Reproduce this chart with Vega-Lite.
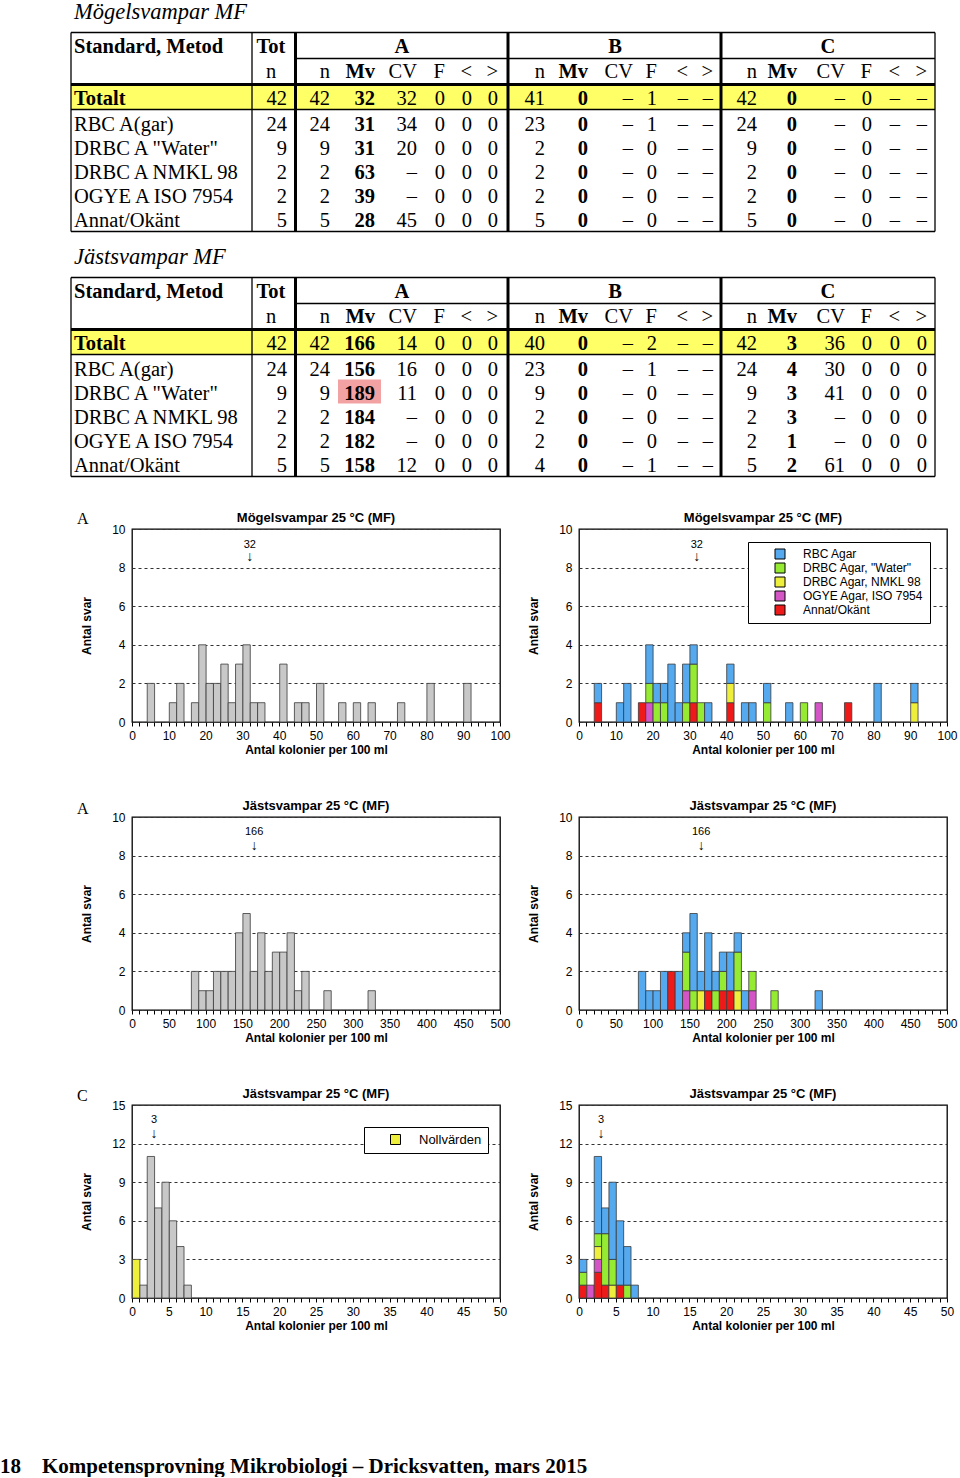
{
"$schema": "https://vega.github.io/schema/vega-lite/v6.json",
"background": "white",
"padding": 0,
"autosize": {"type": "pad"},
"config": {
  "view": {"stroke": "#000", "strokeWidth": 1.3},
  "font": "Liberation Sans",
  "text": {"color": "#000"},
  "title": {"font": "Liberation Sans", "fontSize": 13, "fontWeight": "bold", "color": "#000", "offset": 1, "dy": 3, "baseline": "alphabetic", "anchor": "middle", "frame": "group"},
  "axis": {"domain": false, "grid": false, "ticks": true, "tickColor": "#000", "tickSize": 4, "tickWidth": 1, "labelFont": "Liberation Sans", "labelFontSize": 12, "labelColor": "#000", "labelFlush": false, "labelOverlap": false, "titleFont": "Liberation Sans", "titleFontSize": 12, "titleFontWeight": "bold", "titleColor": "#000"},
  "axisX": {"labelPadding": 4, "titlePadding": 3},
  "axisY": {"grid": true, "gridDash": [3, 3], "gridColor": "#333", "gridWidth": 1, "ticks": false, "labelPadding": 7, "titlePadding": 18},
  "legend": {"orient": "none", "fillColor": "#fff", "strokeColor": "#000", "symbolType": "square", "symbolStrokeColor": "#000", "symbolStrokeWidth": 1, "labelFont": "Liberation Sans", "labelColor": "#000"}
},
"datasets": {
  "tabeller": [
    {"tabell": "Mögelsvampar MF", "metod": "Totalt", "tot": "42", "An": "42", "Amv": "32", "Acv": "32", "Af": "0", "Alt": "0", "Agt": "0", "Bn": "41", "Bmv": "0", "Bcv": "–", "Bf": "1", "Blt": "–", "Bgt": "–", "Cn": "42", "Cmv": "0", "Ccv": "–", "Cf": "0", "Clt": "–", "Cgt": "–"},
    {"tabell": "Mögelsvampar MF", "metod": "RBC A(gar)", "tot": "24", "An": "24", "Amv": "31", "Acv": "34", "Af": "0", "Alt": "0", "Agt": "0", "Bn": "23", "Bmv": "0", "Bcv": "–", "Bf": "1", "Blt": "–", "Bgt": "–", "Cn": "24", "Cmv": "0", "Ccv": "–", "Cf": "0", "Clt": "–", "Cgt": "–"},
    {"tabell": "Mögelsvampar MF", "metod": "DRBC A \"Water\"", "tot": "9", "An": "9", "Amv": "31", "Acv": "20", "Af": "0", "Alt": "0", "Agt": "0", "Bn": "2", "Bmv": "0", "Bcv": "–", "Bf": "0", "Blt": "–", "Bgt": "–", "Cn": "9", "Cmv": "0", "Ccv": "–", "Cf": "0", "Clt": "–", "Cgt": "–"},
    {"tabell": "Mögelsvampar MF", "metod": "DRBC A NMKL 98", "tot": "2", "An": "2", "Amv": "63", "Acv": "–", "Af": "0", "Alt": "0", "Agt": "0", "Bn": "2", "Bmv": "0", "Bcv": "–", "Bf": "0", "Blt": "–", "Bgt": "–", "Cn": "2", "Cmv": "0", "Ccv": "–", "Cf": "0", "Clt": "–", "Cgt": "–"},
    {"tabell": "Mögelsvampar MF", "metod": "OGYE A ISO 7954", "tot": "2", "An": "2", "Amv": "39", "Acv": "–", "Af": "0", "Alt": "0", "Agt": "0", "Bn": "2", "Bmv": "0", "Bcv": "–", "Bf": "0", "Blt": "–", "Bgt": "–", "Cn": "2", "Cmv": "0", "Ccv": "–", "Cf": "0", "Clt": "–", "Cgt": "–"},
    {"tabell": "Mögelsvampar MF", "metod": "Annat/Okänt", "tot": "5", "An": "5", "Amv": "28", "Acv": "45", "Af": "0", "Alt": "0", "Agt": "0", "Bn": "5", "Bmv": "0", "Bcv": "–", "Bf": "0", "Blt": "–", "Bgt": "–", "Cn": "5", "Cmv": "0", "Ccv": "–", "Cf": "0", "Clt": "–", "Cgt": "–"},
    {"tabell": "Jästsvampar MF", "metod": "Totalt", "tot": "42", "An": "42", "Amv": "166", "Acv": "14", "Af": "0", "Alt": "0", "Agt": "0", "Bn": "40", "Bmv": "0", "Bcv": "–", "Bf": "2", "Blt": "–", "Bgt": "–", "Cn": "42", "Cmv": "3", "Ccv": "36", "Cf": "0", "Clt": "0", "Cgt": "0"},
    {"tabell": "Jästsvampar MF", "metod": "RBC A(gar)", "tot": "24", "An": "24", "Amv": "156", "Acv": "16", "Af": "0", "Alt": "0", "Agt": "0", "Bn": "23", "Bmv": "0", "Bcv": "–", "Bf": "1", "Blt": "–", "Bgt": "–", "Cn": "24", "Cmv": "4", "Ccv": "30", "Cf": "0", "Clt": "0", "Cgt": "0"},
    {"tabell": "Jästsvampar MF", "metod": "DRBC A \"Water\"", "tot": "9", "An": "9", "Amv": "189", "Acv": "11", "Af": "0", "Alt": "0", "Agt": "0", "Bn": "9", "Bmv": "0", "Bcv": "–", "Bf": "0", "Blt": "–", "Bgt": "–", "Cn": "9", "Cmv": "3", "Ccv": "41", "Cf": "0", "Clt": "0", "Cgt": "0"},
    {"tabell": "Jästsvampar MF", "metod": "DRBC A NMKL 98", "tot": "2", "An": "2", "Amv": "184", "Acv": "–", "Af": "0", "Alt": "0", "Agt": "0", "Bn": "2", "Bmv": "0", "Bcv": "–", "Bf": "0", "Blt": "–", "Bgt": "–", "Cn": "2", "Cmv": "3", "Ccv": "–", "Cf": "0", "Clt": "0", "Cgt": "0"},
    {"tabell": "Jästsvampar MF", "metod": "OGYE A ISO 7954", "tot": "2", "An": "2", "Amv": "182", "Acv": "–", "Af": "0", "Alt": "0", "Agt": "0", "Bn": "2", "Bmv": "0", "Bcv": "–", "Bf": "0", "Blt": "–", "Bgt": "–", "Cn": "2", "Cmv": "1", "Ccv": "–", "Cf": "0", "Clt": "0", "Cgt": "0"},
    {"tabell": "Jästsvampar MF", "metod": "Annat/Okänt", "tot": "5", "An": "5", "Amv": "158", "Acv": "12", "Af": "0", "Alt": "0", "Agt": "0", "Bn": "4", "Bmv": "0", "Bcv": "–", "Bf": "1", "Blt": "–", "Bgt": "–", "Cn": "5", "Cmv": "2", "Ccv": "61", "Cf": "0", "Clt": "0", "Cgt": "0"}
  ],
  "rubriker": [
    {"tabell": "Mögelsvampar MF", "rad": "h1", "metod": "Standard, Metod", "totc": "Tot", "Ac": "A", "Bc": "B", "Cc": "C"},
    {"tabell": "Mögelsvampar MF", "rad": "h2", "totc": "n", "An": "n", "Amv": "Mv", "Acv": "CV", "Af": "F", "Alt": "<", "Agt": ">", "Bn": "n", "Bmv": "Mv", "Bcv": "CV", "Bf": "F", "Blt": "<", "Bgt": ">", "Cn": "n", "Cmv": "Mv", "Ccv": "CV", "Cf": "F", "Clt": "<", "Cgt": ">"},
    {"tabell": "Jästsvampar MF", "rad": "h1", "metod": "Standard, Metod", "totc": "Tot", "Ac": "A", "Bc": "B", "Cc": "C"},
    {"tabell": "Jästsvampar MF", "rad": "h2", "totc": "n", "An": "n", "Amv": "Mv", "Acv": "CV", "Af": "F", "Alt": "<", "Agt": ">", "Bn": "n", "Bmv": "Mv", "Bcv": "CV", "Bf": "F", "Blt": "<", "Bgt": ">", "Cn": "n", "Cmv": "Mv", "Ccv": "CV", "Cf": "F", "Clt": "<", "Cgt": ">"}
  ],
  "markeringar": [{"tabell": "Jästsvampar MF", "metod": "DRBC A \"Water\"", "kolumn": "Amv"}],
  "hlinjer_tunna": [{"fr": "L0", "till": "L5", "rad": "top"}, {"fr": "L2", "till": "L5", "rad": "sec"}, {"fr": "L0", "till": "L5", "rad": "tl"}, {"fr": "L0", "till": "L5", "rad": "bot"}],
  "hlinjer_tjocka": [{"fr": "L0", "till": "L5", "rad": "thick"}],
  "vlinjer_tunna": [{"kant": "L0"}, {"kant": "L1"}, {"kant": "L5"}],
  "vlinjer_tjocka": [{"kant": "L2"}, {"kant": "L3"}, {"kant": "L4"}],
  "mogel_tot": [
    {"fran": 4, "till": 6, "antal": 2}, {"fran": 10, "till": 12, "antal": 1}, {"fran": 12, "till": 14, "antal": 2}, {"fran": 16, "till": 18, "antal": 1},
    {"fran": 18, "till": 20, "antal": 4}, {"fran": 20, "till": 22, "antal": 2}, {"fran": 22, "till": 24, "antal": 2}, {"fran": 24, "till": 26, "antal": 3},
    {"fran": 26, "till": 28, "antal": 1}, {"fran": 28, "till": 30, "antal": 3}, {"fran": 30, "till": 32, "antal": 4}, {"fran": 32, "till": 34, "antal": 1},
    {"fran": 34, "till": 36, "antal": 1}, {"fran": 40, "till": 42, "antal": 3}, {"fran": 44, "till": 46, "antal": 1}, {"fran": 46, "till": 48, "antal": 1},
    {"fran": 50, "till": 52, "antal": 2}, {"fran": 56, "till": 58, "antal": 1}, {"fran": 60, "till": 62, "antal": 1}, {"fran": 64, "till": 66, "antal": 1},
    {"fran": 72, "till": 74, "antal": 1}, {"fran": 80, "till": 82, "antal": 2}, {"fran": 90, "till": 92, "antal": 2}
  ],
  "mogel_metod": [
    {"fran": 4, "till": 6, "metod": "Annat/Okänt", "antal": 1}, {"fran": 4, "till": 6, "metod": "RBC Agar", "antal": 1},
    {"fran": 10, "till": 12, "metod": "RBC Agar", "antal": 1}, {"fran": 12, "till": 14, "metod": "RBC Agar", "antal": 2},
    {"fran": 16, "till": 18, "metod": "Annat/Okänt", "antal": 1},
    {"fran": 18, "till": 20, "metod": "OGYE Agar, ISO 7954", "antal": 1}, {"fran": 18, "till": 20, "metod": "DRBC Agar, \"Water\"", "antal": 1}, {"fran": 18, "till": 20, "metod": "RBC Agar", "antal": 2},
    {"fran": 20, "till": 22, "metod": "DRBC Agar, \"Water\"", "antal": 1}, {"fran": 20, "till": 22, "metod": "RBC Agar", "antal": 1},
    {"fran": 22, "till": 24, "metod": "DRBC Agar, \"Water\"", "antal": 1}, {"fran": 22, "till": 24, "metod": "RBC Agar", "antal": 1},
    {"fran": 24, "till": 26, "metod": "RBC Agar", "antal": 3}, {"fran": 26, "till": 28, "metod": "RBC Agar", "antal": 1},
    {"fran": 28, "till": 30, "metod": "DRBC Agar, \"Water\"", "antal": 1}, {"fran": 28, "till": 30, "metod": "RBC Agar", "antal": 2},
    {"fran": 30, "till": 32, "metod": "Annat/Okänt", "antal": 1}, {"fran": 30, "till": 32, "metod": "DRBC Agar, \"Water\"", "antal": 2}, {"fran": 30, "till": 32, "metod": "RBC Agar", "antal": 1},
    {"fran": 32, "till": 34, "metod": "DRBC Agar, \"Water\"", "antal": 1}, {"fran": 34, "till": 36, "metod": "RBC Agar", "antal": 1},
    {"fran": 40, "till": 42, "metod": "Annat/Okänt", "antal": 1}, {"fran": 40, "till": 42, "metod": "DRBC Agar, NMKL 98", "antal": 1}, {"fran": 40, "till": 42, "metod": "RBC Agar", "antal": 1},
    {"fran": 44, "till": 46, "metod": "RBC Agar", "antal": 1}, {"fran": 46, "till": 48, "metod": "RBC Agar", "antal": 1},
    {"fran": 50, "till": 52, "metod": "DRBC Agar, \"Water\"", "antal": 1}, {"fran": 50, "till": 52, "metod": "RBC Agar", "antal": 1},
    {"fran": 56, "till": 58, "metod": "RBC Agar", "antal": 1}, {"fran": 60, "till": 62, "metod": "DRBC Agar, \"Water\"", "antal": 1},
    {"fran": 64, "till": 66, "metod": "OGYE Agar, ISO 7954", "antal": 1}, {"fran": 72, "till": 74, "metod": "Annat/Okänt", "antal": 1},
    {"fran": 80, "till": 82, "metod": "RBC Agar", "antal": 2},
    {"fran": 90, "till": 92, "metod": "DRBC Agar, NMKL 98", "antal": 1}, {"fran": 90, "till": 92, "metod": "RBC Agar", "antal": 1}
  ],
  "jast_tot": [
    {"fran": 80, "till": 90, "antal": 2}, {"fran": 90, "till": 100, "antal": 1}, {"fran": 100, "till": 110, "antal": 1}, {"fran": 110, "till": 120, "antal": 2},
    {"fran": 120, "till": 130, "antal": 2}, {"fran": 130, "till": 140, "antal": 2}, {"fran": 140, "till": 150, "antal": 4}, {"fran": 150, "till": 160, "antal": 5},
    {"fran": 160, "till": 170, "antal": 2}, {"fran": 170, "till": 180, "antal": 4}, {"fran": 180, "till": 190, "antal": 2}, {"fran": 190, "till": 200, "antal": 3},
    {"fran": 200, "till": 210, "antal": 3}, {"fran": 210, "till": 220, "antal": 4}, {"fran": 220, "till": 230, "antal": 1}, {"fran": 230, "till": 240, "antal": 2},
    {"fran": 260, "till": 270, "antal": 1}, {"fran": 320, "till": 330, "antal": 1}
  ],
  "jast_metod": [
    {"fran": 80, "till": 90, "metod": "RBC Agar", "antal": 2}, {"fran": 90, "till": 100, "metod": "RBC Agar", "antal": 1},
    {"fran": 100, "till": 110, "metod": "RBC Agar", "antal": 1}, {"fran": 110, "till": 120, "metod": "RBC Agar", "antal": 2},
    {"fran": 120, "till": 130, "metod": "Annat/Okänt", "antal": 2}, {"fran": 130, "till": 140, "metod": "RBC Agar", "antal": 2},
    {"fran": 140, "till": 150, "metod": "OGYE Agar, ISO 7954", "antal": 1}, {"fran": 140, "till": 150, "metod": "DRBC Agar, \"Water\"", "antal": 2}, {"fran": 140, "till": 150, "metod": "RBC Agar", "antal": 1},
    {"fran": 150, "till": 160, "metod": "DRBC Agar, \"Water\"", "antal": 1}, {"fran": 150, "till": 160, "metod": "RBC Agar", "antal": 4},
    {"fran": 160, "till": 170, "metod": "DRBC Agar, NMKL 98", "antal": 1}, {"fran": 160, "till": 170, "metod": "RBC Agar", "antal": 1},
    {"fran": 170, "till": 180, "metod": "Annat/Okänt", "antal": 1}, {"fran": 170, "till": 180, "metod": "RBC Agar", "antal": 3},
    {"fran": 180, "till": 190, "metod": "DRBC Agar, \"Water\"", "antal": 1}, {"fran": 180, "till": 190, "metod": "RBC Agar", "antal": 1},
    {"fran": 190, "till": 200, "metod": "Annat/Okänt", "antal": 1}, {"fran": 190, "till": 200, "metod": "DRBC Agar, \"Water\"", "antal": 1}, {"fran": 190, "till": 200, "metod": "RBC Agar", "antal": 1},
    {"fran": 200, "till": 210, "metod": "Annat/Okänt", "antal": 1}, {"fran": 200, "till": 210, "metod": "RBC Agar", "antal": 2},
    {"fran": 210, "till": 220, "metod": "DRBC Agar, NMKL 98", "antal": 1}, {"fran": 210, "till": 220, "metod": "DRBC Agar, \"Water\"", "antal": 2}, {"fran": 210, "till": 220, "metod": "RBC Agar", "antal": 1},
    {"fran": 220, "till": 230, "metod": "RBC Agar", "antal": 1},
    {"fran": 230, "till": 240, "metod": "OGYE Agar, ISO 7954", "antal": 1}, {"fran": 230, "till": 240, "metod": "DRBC Agar, \"Water\"", "antal": 1},
    {"fran": 260, "till": 270, "metod": "DRBC Agar, \"Water\"", "antal": 1}, {"fran": 320, "till": 330, "metod": "RBC Agar", "antal": 1}
  ],
  "jastc_tot": [
    {"fran": 0, "till": 1, "typ": "Nollvärden", "antal": 3}, {"fran": 1, "till": 2, "typ": "Övriga", "antal": 1}, {"fran": 2, "till": 3, "typ": "Övriga", "antal": 11},
    {"fran": 3, "till": 4, "typ": "Övriga", "antal": 7}, {"fran": 4, "till": 5, "typ": "Övriga", "antal": 9}, {"fran": 5, "till": 6, "typ": "Övriga", "antal": 6},
    {"fran": 6, "till": 7, "typ": "Övriga", "antal": 4}, {"fran": 7, "till": 8, "typ": "Övriga", "antal": 1}
  ],
  "jastc_metod": [
    {"fran": 0, "till": 1, "metod": "Annat/Okänt", "antal": 1}, {"fran": 0, "till": 1, "metod": "DRBC Agar, \"Water\"", "antal": 1}, {"fran": 0, "till": 1, "metod": "RBC Agar", "antal": 1},
    {"fran": 1, "till": 2, "metod": "OGYE Agar, ISO 7954", "antal": 1},
    {"fran": 2, "till": 3, "metod": "Annat/Okänt", "antal": 2}, {"fran": 2, "till": 3, "metod": "OGYE Agar, ISO 7954", "antal": 1}, {"fran": 2, "till": 3, "metod": "DRBC Agar, NMKL 98", "antal": 1}, {"fran": 2, "till": 3, "metod": "DRBC Agar, \"Water\"", "antal": 1}, {"fran": 2, "till": 3, "metod": "RBC Agar", "antal": 6},
    {"fran": 3, "till": 4, "metod": "Annat/Okänt", "antal": 1}, {"fran": 3, "till": 4, "metod": "DRBC Agar, \"Water\"", "antal": 4}, {"fran": 3, "till": 4, "metod": "RBC Agar", "antal": 2},
    {"fran": 4, "till": 5, "metod": "DRBC Agar, NMKL 98", "antal": 1}, {"fran": 4, "till": 5, "metod": "DRBC Agar, \"Water\"", "antal": 2}, {"fran": 4, "till": 5, "metod": "RBC Agar", "antal": 6},
    {"fran": 5, "till": 6, "metod": "Annat/Okänt", "antal": 1}, {"fran": 5, "till": 6, "metod": "RBC Agar", "antal": 5},
    {"fran": 6, "till": 7, "metod": "DRBC Agar, \"Water\"", "antal": 1}, {"fran": 6, "till": 7, "metod": "RBC Agar", "antal": 3},
    {"fran": 7, "till": 8, "metod": "RBC Agar", "antal": 1}
  ]
},
"columns": 3,
"spacing": {"row": 95, "column": 79},
"bounds": "flush",
"align": {"row": "each", "column": "none"},
"resolve": {"scale": {"color": "independent", "x": "independent", "y": "independent"}, "legend": {"color": "independent"}},
"concat": [
  {
    "width": 1, "height": 433,
    "view": {"stroke": null},
    "layer": [
      {"data": {"name": "tabeller"},
       "transform": [{"filter": "datum.metod === 'Totalt'"}, {"calculate": "datum.tabell === 'Jästsvampar MF' ? 14 : 0", "as": "off"}, {"calculate": "5 + datum.off", "as": "ya"}, {"calculate": "7 + datum.off", "as": "yb"}],
       "mark": {"type": "rect", "fill": "#ffff66"},
       "encoding": {
         "x": {"datum": 0, "type": "quantitative", "scale": {"domain": [0,1,2,3,4,5,6,7,8,9,10,11,12,13,14,15,16,17,18,19,20,21,22,23,24,25,26,27,28,29,30,31], "range": [71,74,252,271,287,295.5,330,375,417,445,472,498,508,545,588,633,657,688,713,721,757,797,845,872,900,927,935,402,615,828,338,381], "zero": false, "nice": false}, "axis": null},
         "x2": {"datum": 26},
         "y": {"field": "ya", "type": "quantitative", "scale": {"domain": [0,1,2,3,4,5,6,7,8,9,10,11,12,13,14,15,16,17,18,19,20,21,22,23,24,25,26,27], "range": [17.5,31.5,52,57.5,77,83.5,104,108.5,130,154,178,202,226,230.5,262.5,276.5,297,302.5,322,328.5,349,353.5,375,399,423,447,471,475.5], "zero": false, "nice": false}, "axis": null},
         "y2": {"field": "yb"}
       }},
      {"data": {"name": "markeringar"},
       "transform": [{"calculate": "datum.tabell === 'Jästsvampar MF' ? 14 : 0", "as": "off"}, {"calculate": "[6,8,9,10,11,12][indexof(['Totalt','RBC A(gar)','DRBC A \"Water\"','DRBC A NMKL 98','OGYE A ISO 7954','Annat/Okänt'], datum.metod)] + datum.off", "as": "yi"}, {"calculate": "datum.yi - 0.854", "as": "ya"}, {"calculate": "datum.yi + 0.146", "as": "yb"}],
       "mark": {"type": "rect", "fill": "#f2a2a2"},
       "encoding": {
         "x": {"datum": 30, "type": "quantitative", "axis": null},
         "x2": {"datum": 31},
         "y": {"field": "ya", "type": "quantitative", "axis": null},
         "y2": {"field": "yb"}
       }},
      {"data": {"name": "hlinjer_tunna"},
       "transform": [{"calculate": "[0, 14]", "as": "off"}, {"flatten": ["off"]},
         {"calculate": "indexof(['L0','metod','L1','totc','tot','L2','An','Amv','Acv','Af','Alt','Agt','L3','Bn','Bmv','Bcv','Bf','Blt','Bgt','L4','Cn','Cmv','Ccv','Cf','Clt','Cgt','L5'], datum.fr)", "as": "xa"},
         {"calculate": "indexof(['L0','metod','L1','totc','tot','L2','An','Amv','Acv','Af','Alt','Agt','L3','Bn','Bmv','Bcv','Bf','Blt','Bgt','L4','Cn','Cmv','Ccv','Cf','Clt','Cgt','L5'], datum.till)", "as": "xb"},
         {"calculate": "indexof(['title','top','h1','sec','h2','thick','r0','tl','r1','r2','r3','r4','r5','bot'], datum.rad) + datum.off", "as": "ya"}],
       "mark": {"type": "rule", "color": "#000", "strokeWidth": 1.3},
       "encoding": {"x": {"field": "xa", "type": "quantitative", "axis": null}, "x2": {"field": "xb"}, "y": {"field": "ya", "type": "quantitative", "axis": null}}},
      {"data": {"name": "hlinjer_tjocka"},
       "transform": [{"calculate": "[0, 14]", "as": "off"}, {"flatten": ["off"]},
         {"calculate": "indexof(['L0','metod','L1','totc','tot','L2','An','Amv','Acv','Af','Alt','Agt','L3','Bn','Bmv','Bcv','Bf','Blt','Bgt','L4','Cn','Cmv','Ccv','Cf','Clt','Cgt','L5'], datum.fr)", "as": "xa"},
         {"calculate": "indexof(['L0','metod','L1','totc','tot','L2','An','Amv','Acv','Af','Alt','Agt','L3','Bn','Bmv','Bcv','Bf','Blt','Bgt','L4','Cn','Cmv','Ccv','Cf','Clt','Cgt','L5'], datum.till)", "as": "xb"},
         {"calculate": "indexof(['title','top','h1','sec','h2','thick','r0','tl','r1','r2','r3','r4','r5','bot'], datum.rad) + datum.off", "as": "ya"}],
       "mark": {"type": "rule", "color": "#000", "strokeWidth": 3},
       "encoding": {"x": {"field": "xa", "type": "quantitative", "axis": null}, "x2": {"field": "xb"}, "y": {"field": "ya", "type": "quantitative", "axis": null}}},
      {"data": {"name": "vlinjer_tunna"},
       "transform": [{"calculate": "[0, 14]", "as": "off"}, {"flatten": ["off"]},
         {"calculate": "indexof(['L0','metod','L1','totc','tot','L2','An','Amv','Acv','Af','Alt','Agt','L3','Bn','Bmv','Bcv','Bf','Blt','Bgt','L4','Cn','Cmv','Ccv','Cf','Clt','Cgt','L5'], datum.kant)", "as": "xa"},
         {"calculate": "1 + datum.off", "as": "ya"}, {"calculate": "13 + datum.off", "as": "yb"}],
       "mark": {"type": "rule", "color": "#000", "strokeWidth": 1.3},
       "encoding": {"x": {"field": "xa", "type": "quantitative", "axis": null}, "y": {"field": "ya", "type": "quantitative", "axis": null}, "y2": {"field": "yb"}}},
      {"data": {"name": "vlinjer_tjocka"},
       "transform": [{"calculate": "[0, 14]", "as": "off"}, {"flatten": ["off"]},
         {"calculate": "indexof(['L0','metod','L1','totc','tot','L2','An','Amv','Acv','Af','Alt','Agt','L3','Bn','Bmv','Bcv','Bf','Blt','Bgt','L4','Cn','Cmv','Ccv','Cf','Clt','Cgt','L5'], datum.kant)", "as": "xa"},
         {"calculate": "1 + datum.off", "as": "ya"}, {"calculate": "13 + datum.off", "as": "yb"}],
       "mark": {"type": "rule", "color": "#000", "strokeWidth": 3},
       "encoding": {"x": {"field": "xa", "type": "quantitative", "axis": null}, "y": {"field": "ya", "type": "quantitative", "axis": null}, "y2": {"field": "yb"}}},
      {"data": {"name": "tabeller"},
       "transform": [{"filter": "datum.metod === 'Totalt'"}, {"calculate": "datum.tabell === 'Jästsvampar MF' ? 14 : 0", "as": "yi"}],
       "mark": {"type": "text", "align": "left", "baseline": "alphabetic", "font": "Liberation Serif", "fontSize": 22.5, "fontStyle": "italic"},
       "encoding": {"x": {"datum": 1, "type": "quantitative", "axis": null}, "y": {"field": "yi", "type": "quantitative", "axis": null}, "text": {"field": "tabell"}}},
      {"data": {"name": "tabeller"},
       "transform": [{"filter": "datum.metod !== 'Totalt'"}, {"calculate": "datum.tabell === 'Jästsvampar MF' ? 14 : 0", "as": "off"}, {"calculate": "[6,8,9,10,11,12][indexof(['Totalt','RBC A(gar)','DRBC A \"Water\"','DRBC A NMKL 98','OGYE A ISO 7954','Annat/Okänt'], datum.metod)] + datum.off", "as": "yi"}],
       "mark": {"type": "text", "align": "left", "baseline": "alphabetic", "font": "Liberation Serif", "fontSize": 20.5},
       "encoding": {"x": {"datum": 1, "type": "quantitative", "axis": null}, "y": {"field": "yi", "type": "quantitative", "axis": null}, "text": {"field": "metod"}}},
      {"data": {"name": "tabeller"},
       "transform": [{"filter": "datum.metod === 'Totalt'"}, {"calculate": "datum.tabell === 'Jästsvampar MF' ? 14 : 0", "as": "off"}, {"calculate": "6 + datum.off", "as": "yi"}],
       "mark": {"type": "text", "align": "left", "baseline": "alphabetic", "font": "Liberation Serif", "fontSize": 20.5, "fontWeight": "bold"},
       "encoding": {"x": {"datum": 1, "type": "quantitative", "axis": null}, "y": {"field": "yi", "type": "quantitative", "axis": null}, "text": {"field": "metod"}}},
      {"data": {"name": "tabeller"},
       "transform": [{"calculate": "datum.tabell === 'Jästsvampar MF' ? 14 : 0", "as": "off"}, {"calculate": "[6,8,9,10,11,12][indexof(['Totalt','RBC A(gar)','DRBC A \"Water\"','DRBC A NMKL 98','OGYE A ISO 7954','Annat/Okänt'], datum.metod)] + datum.off", "as": "yi"},
         {"fold": ["tot","An","Acv","Af","Alt","Agt","Bn","Bcv","Bf","Blt","Bgt","Cn","Ccv","Cf","Clt","Cgt"], "as": ["k", "v"]},
         {"calculate": "indexof(['L0','metod','L1','totc','tot','L2','An','Amv','Acv','Af','Alt','Agt','L3','Bn','Bmv','Bcv','Bf','Blt','Bgt','L4','Cn','Cmv','Ccv','Cf','Clt','Cgt','L5'], datum.k)", "as": "xi"}],
       "mark": {"type": "text", "align": "right", "baseline": "alphabetic", "font": "Liberation Serif", "fontSize": 20.5},
       "encoding": {"x": {"field": "xi", "type": "quantitative", "axis": null}, "y": {"field": "yi", "type": "quantitative", "axis": null}, "text": {"field": "v"}}},
      {"data": {"name": "tabeller"},
       "transform": [{"calculate": "datum.tabell === 'Jästsvampar MF' ? 14 : 0", "as": "off"}, {"calculate": "[6,8,9,10,11,12][indexof(['Totalt','RBC A(gar)','DRBC A \"Water\"','DRBC A NMKL 98','OGYE A ISO 7954','Annat/Okänt'], datum.metod)] + datum.off", "as": "yi"},
         {"fold": ["Amv","Bmv","Cmv"], "as": ["k", "v"]},
         {"calculate": "indexof(['L0','metod','L1','totc','tot','L2','An','Amv','Acv','Af','Alt','Agt','L3','Bn','Bmv','Bcv','Bf','Blt','Bgt','L4','Cn','Cmv','Ccv','Cf','Clt','Cgt','L5'], datum.k)", "as": "xi"}],
       "mark": {"type": "text", "align": "right", "baseline": "alphabetic", "font": "Liberation Serif", "fontSize": 20.5, "fontWeight": "bold"},
       "encoding": {"x": {"field": "xi", "type": "quantitative", "axis": null}, "y": {"field": "yi", "type": "quantitative", "axis": null}, "text": {"field": "v"}}},
      {"data": {"name": "rubriker"},
       "transform": [{"filter": "datum.rad === 'h1'"}, {"calculate": "(datum.tabell === 'Jästsvampar MF' ? 14 : 0) + 2", "as": "yi"}],
       "mark": {"type": "text", "align": "left", "baseline": "alphabetic", "font": "Liberation Serif", "fontSize": 20.5, "fontWeight": "bold"},
       "encoding": {"x": {"datum": 1, "type": "quantitative", "axis": null}, "y": {"field": "yi", "type": "quantitative", "axis": null}, "text": {"field": "metod"}}},
      {"data": {"name": "rubriker"},
       "transform": [{"filter": "datum.rad === 'h1'"}, {"calculate": "(datum.tabell === 'Jästsvampar MF' ? 14 : 0) + 2", "as": "yi"},
         {"fold": ["totc","Ac","Bc","Cc"], "as": ["k", "v"]},
         {"calculate": "indexof(['L0','metod','L1','totc','tot','L2','An','Amv','Acv','Af','Alt','Agt','L3','Bn','Bmv','Bcv','Bf','Blt','Bgt','L4','Cn','Cmv','Ccv','Cf','Clt','Cgt','L5','Ac','Bc','Cc'], datum.k)", "as": "xi"}],
       "mark": {"type": "text", "align": "center", "baseline": "alphabetic", "font": "Liberation Serif", "fontSize": 20.5, "fontWeight": "bold"},
       "encoding": {"x": {"field": "xi", "type": "quantitative", "axis": null}, "y": {"field": "yi", "type": "quantitative", "axis": null}, "text": {"field": "v"}}},
      {"data": {"name": "rubriker"},
       "transform": [{"filter": "datum.rad === 'h2'"}, {"calculate": "(datum.tabell === 'Jästsvampar MF' ? 14 : 0) + 4", "as": "yi"},
         {"fold": ["totc"], "as": ["k", "v"]},
         {"calculate": "indexof(['L0','metod','L1','totc'], datum.k)", "as": "xi"}],
       "mark": {"type": "text", "align": "center", "baseline": "alphabetic", "font": "Liberation Serif", "fontSize": 20.5},
       "encoding": {"x": {"field": "xi", "type": "quantitative", "axis": null}, "y": {"field": "yi", "type": "quantitative", "axis": null}, "text": {"field": "v"}}},
      {"data": {"name": "rubriker"},
       "transform": [{"filter": "datum.rad === 'h2'"}, {"calculate": "(datum.tabell === 'Jästsvampar MF' ? 14 : 0) + 4", "as": "yi"},
         {"fold": ["An","Acv","Af","Alt","Agt","Bn","Bcv","Bf","Blt","Bgt","Cn","Ccv","Cf","Clt","Cgt"], "as": ["k", "v"]},
         {"calculate": "indexof(['L0','metod','L1','totc','tot','L2','An','Amv','Acv','Af','Alt','Agt','L3','Bn','Bmv','Bcv','Bf','Blt','Bgt','L4','Cn','Cmv','Ccv','Cf','Clt','Cgt','L5'], datum.k)", "as": "xi"}],
       "mark": {"type": "text", "align": "right", "baseline": "alphabetic", "font": "Liberation Serif", "fontSize": 20.5},
       "encoding": {"x": {"field": "xi", "type": "quantitative", "axis": null}, "y": {"field": "yi", "type": "quantitative", "axis": null}, "text": {"field": "v"}}},
      {"data": {"name": "rubriker"},
       "transform": [{"filter": "datum.rad === 'h2'"}, {"calculate": "(datum.tabell === 'Jästsvampar MF' ? 14 : 0) + 4", "as": "yi"},
         {"fold": ["Amv","Bmv","Cmv"], "as": ["k", "v"]},
         {"calculate": "indexof(['L0','metod','L1','totc','tot','L2','An','Amv','Acv','Af','Alt','Agt','L3','Bn','Bmv','Bcv','Bf','Blt','Bgt','L4','Cn','Cmv','Ccv','Cf','Clt','Cgt','L5'], datum.k)", "as": "xi"}],
       "mark": {"type": "text", "align": "right", "baseline": "alphabetic", "font": "Liberation Serif", "fontSize": 20.5, "fontWeight": "bold"},
       "encoding": {"x": {"field": "xi", "type": "quantitative", "axis": null}, "y": {"field": "yi", "type": "quantitative", "axis": null}, "text": {"field": "v"}}}
    ]
  },
  {"width": 1, "height": 1, "view": {"stroke": null}, "data": {"values": [{}]}, "mark": {"type": "text", "text": "", "baseline": "top", "fontSize": 1}, "encoding": {}},
  {"width": 1, "height": 1, "view": {"stroke": null}, "data": {"values": [{}]}, "mark": {"type": "text", "text": "", "baseline": "top", "fontSize": 1}, "encoding": {}},

  {"width": 53, "height": 193, "view": {"stroke": null},
   "title": {"text": "A", "anchor": "start", "frame": "group", "dx": 77, "dy": 15, "offset": 4.5, "font": "Liberation Serif", "fontSize": 16, "fontWeight": "normal", "baseline": "alphabetic"},
   "data": {"values": [{}]}, "mark": {"type": "text", "text": "", "baseline": "top", "fontSize": 1}, "encoding": {}},
  {
    "width": 368, "height": 193,
    "title": {"text": "Mögelsvampar 25 °C (MF)"},
    "layer": [
      {"data": {"name": "mogel_tot"},
       "mark": {"type": "bar", "fill": "#c8c8c8", "stroke": "#3a3a3a", "strokeWidth": 0.8, "binSpacing": 0},
       "encoding": {
         "x": {"field": "fran", "type": "quantitative", "bin": "binned", "scale": {"domain": [0, 100], "nice": false, "zero": false}, "axis": {"values": [0,2,4,6,8,10,12,14,16,18,20,22,24,26,28,30,32,34,36,38,40,42,44,46,48,50,52,54,56,58,60,62,64,66,68,70,72,74,76,78,80,82,84,86,88,90,92,94,96,98,100], "tickCount": 500, "format": "d", "labelOverlap": false, "labelExpr": "datum.value % 10 === 0 ? datum.label : ''", "title": "Antal kolonier per 100 ml"}},
         "x2": {"field": "till"},
         "y": {"field": "antal", "type": "quantitative", "scale": {"domain": [0, 10], "nice": false}, "axis": {"values": [0,2,4,6,8,10], "tickCount": 500, "format": "d", "labelOverlap": false, "title": "Antal svar"}}
       }},
      {"data": {"values": [{"mv": 32, "etikett": "32", "pil": "↓"}]},
       "mark": {"type": "text", "fontSize": 11, "baseline": "middle"},
       "encoding": {"x": {"field": "mv", "type": "quantitative"}, "y": {"datum": 9.17}, "text": {"field": "etikett"}}},
      {"data": {"values": [{"mv": 32, "etikett": "32", "pil": "↓"}]},
       "mark": {"type": "text", "fontSize": 14, "baseline": "middle"},
       "encoding": {"x": {"field": "mv", "type": "quantitative"}, "y": {"datum": 8.55}, "text": {"field": "pil"}}}
    ]
  },
  {
    "width": 368, "height": 193,
    "title": {"text": "Mögelsvampar 25 °C (MF)"},
    "layer": [
      {"data": {"name": "mogel_metod"},
       "transform": [{"calculate": "indexof(['Annat/Okänt','OGYE Agar, ISO 7954','DRBC Agar, NMKL 98','DRBC Agar, \"Water\"','RBC Agar'], datum.metod)", "as": "ord"}],
       "mark": {"type": "bar", "stroke": "#3a3a3a", "strokeWidth": 0.8, "binSpacing": 0},
       "encoding": {
         "x": {"field": "fran", "type": "quantitative", "bin": "binned", "scale": {"domain": [0, 100], "nice": false, "zero": false}, "axis": {"values": [0,2,4,6,8,10,12,14,16,18,20,22,24,26,28,30,32,34,36,38,40,42,44,46,48,50,52,54,56,58,60,62,64,66,68,70,72,74,76,78,80,82,84,86,88,90,92,94,96,98,100], "tickCount": 500, "format": "d", "labelOverlap": false, "labelExpr": "datum.value % 10 === 0 ? datum.label : ''", "title": "Antal kolonier per 100 ml"}},
         "x2": {"field": "till"},
         "y": {"field": "antal", "type": "quantitative", "stack": "zero", "scale": {"domain": [0, 10], "nice": false}, "axis": {"values": [0,2,4,6,8,10], "tickCount": 500, "format": "d", "labelOverlap": false, "title": "Antal svar"}},
         "color": {"field": "metod", "type": "nominal", "scale": {"domain": ["RBC Agar", "DRBC Agar, \"Water\"", "DRBC Agar, NMKL 98", "OGYE Agar, ISO 7954", "Annat/Okänt"], "range": ["#55a9ee", "#95eb32", "#eeee3c", "#d456c6", "#ee1a1a"]},
           "legend": {"title": null, "legendX": 169, "legendY": 13, "padding": 6, "symbolSize": 100, "symbolOffset": 20, "labelOffset": 17, "labelFontSize": 12, "rowPadding": 0}},
         "order": {"field": "ord", "type": "quantitative"}
       }},
      {"data": {"values": [{"mv": 32, "etikett": "32", "pil": "↓"}]},
       "mark": {"type": "text", "fontSize": 11, "baseline": "middle"},
       "encoding": {"x": {"field": "mv", "type": "quantitative"}, "y": {"datum": 9.17}, "text": {"field": "etikett"}}},
      {"data": {"values": [{"mv": 32, "etikett": "32", "pil": "↓"}]},
       "mark": {"type": "text", "fontSize": 14, "baseline": "middle"},
       "encoding": {"x": {"field": "mv", "type": "quantitative"}, "y": {"datum": 8.55}, "text": {"field": "pil"}}}
    ]
  },

  {"width": 53, "height": 193, "view": {"stroke": null},
   "title": {"text": "A", "anchor": "start", "frame": "group", "dx": 77, "dy": 16, "offset": 3, "font": "Liberation Serif", "fontSize": 16, "fontWeight": "normal", "baseline": "alphabetic"},
   "data": {"values": [{}]}, "mark": {"type": "text", "text": "", "baseline": "top", "fontSize": 1}, "encoding": {}},
  {
    "width": 368, "height": 193,
    "title": {"text": "Jästsvampar 25 °C (MF)"},
    "layer": [
      {"data": {"name": "jast_tot"},
       "mark": {"type": "bar", "fill": "#c8c8c8", "stroke": "#3a3a3a", "strokeWidth": 0.8, "binSpacing": 0},
       "encoding": {
         "x": {"field": "fran", "type": "quantitative", "bin": "binned", "scale": {"domain": [0, 500], "nice": false, "zero": false}, "axis": {"values": [0,10,20,30,40,50,60,70,80,90,100,110,120,130,140,150,160,170,180,190,200,210,220,230,240,250,260,270,280,290,300,310,320,330,340,350,360,370,380,390,400,410,420,430,440,450,460,470,480,490,500], "tickCount": 500, "format": "d", "labelOverlap": false, "labelExpr": "datum.value % 50 === 0 ? datum.label : ''", "title": "Antal kolonier per 100 ml"}},
         "x2": {"field": "till"},
         "y": {"field": "antal", "type": "quantitative", "scale": {"domain": [0, 10], "nice": false}, "axis": {"values": [0,2,4,6,8,10], "tickCount": 500, "format": "d", "labelOverlap": false, "title": "Antal svar"}}
       }},
      {"data": {"values": [{"mv": 166, "etikett": "166", "pil": "↓"}]},
       "mark": {"type": "text", "fontSize": 11, "baseline": "middle"},
       "encoding": {"x": {"field": "mv", "type": "quantitative"}, "y": {"datum": 9.22}, "text": {"field": "etikett"}}},
      {"data": {"values": [{"mv": 166, "etikett": "166", "pil": "↓"}]},
       "mark": {"type": "text", "fontSize": 14, "baseline": "middle"},
       "encoding": {"x": {"field": "mv", "type": "quantitative"}, "y": {"datum": 8.49}, "text": {"field": "pil"}}}
    ]
  },
  {
    "width": 368, "height": 193,
    "title": {"text": "Jästsvampar 25 °C (MF)"},
    "layer": [
      {"data": {"name": "jast_metod"},
       "transform": [{"calculate": "indexof(['Annat/Okänt','OGYE Agar, ISO 7954','DRBC Agar, NMKL 98','DRBC Agar, \"Water\"','RBC Agar'], datum.metod)", "as": "ord"}],
       "mark": {"type": "bar", "stroke": "#3a3a3a", "strokeWidth": 0.8, "binSpacing": 0},
       "encoding": {
         "x": {"field": "fran", "type": "quantitative", "bin": "binned", "scale": {"domain": [0, 500], "nice": false, "zero": false}, "axis": {"values": [0,10,20,30,40,50,60,70,80,90,100,110,120,130,140,150,160,170,180,190,200,210,220,230,240,250,260,270,280,290,300,310,320,330,340,350,360,370,380,390,400,410,420,430,440,450,460,470,480,490,500], "tickCount": 500, "format": "d", "labelOverlap": false, "labelExpr": "datum.value % 50 === 0 ? datum.label : ''", "title": "Antal kolonier per 100 ml"}},
         "x2": {"field": "till"},
         "y": {"field": "antal", "type": "quantitative", "stack": "zero", "scale": {"domain": [0, 10], "nice": false}, "axis": {"values": [0,2,4,6,8,10], "tickCount": 500, "format": "d", "labelOverlap": false, "title": "Antal svar"}},
         "color": {"field": "metod", "type": "nominal", "scale": {"domain": ["RBC Agar", "DRBC Agar, \"Water\"", "DRBC Agar, NMKL 98", "OGYE Agar, ISO 7954", "Annat/Okänt"], "range": ["#55a9ee", "#95eb32", "#eeee3c", "#d456c6", "#ee1a1a"]}, "legend": null},
         "order": {"field": "ord", "type": "quantitative"}
       }},
      {"data": {"values": [{"mv": 166, "etikett": "166", "pil": "↓"}]},
       "mark": {"type": "text", "fontSize": 11, "baseline": "middle"},
       "encoding": {"x": {"field": "mv", "type": "quantitative"}, "y": {"datum": 9.22}, "text": {"field": "etikett"}}},
      {"data": {"values": [{"mv": 166, "etikett": "166", "pil": "↓"}]},
       "mark": {"type": "text", "fontSize": 14, "baseline": "middle"},
       "encoding": {"x": {"field": "mv", "type": "quantitative"}, "y": {"datum": 8.49}, "text": {"field": "pil"}}}
    ]
  },

  {"width": 53, "height": 193, "view": {"stroke": null},
   "title": {"text": "C", "anchor": "start", "frame": "group", "dx": 77, "dy": 16, "offset": 4, "font": "Liberation Serif", "fontSize": 16, "fontWeight": "normal", "baseline": "alphabetic"},
   "data": {"values": [{}]}, "mark": {"type": "text", "text": "", "baseline": "top", "fontSize": 1}, "encoding": {}},
  {
    "width": 368, "height": 193,
    "title": {"text": "Jästsvampar 25 °C (MF)"},
    "layer": [
      {"data": {"name": "jastc_tot"},
       "mark": {"type": "bar", "stroke": "#3a3a3a", "strokeWidth": 0.8, "binSpacing": 0},
       "encoding": {
         "x": {"field": "fran", "type": "quantitative", "bin": "binned", "scale": {"domain": [0, 50], "nice": false, "zero": false}, "axis": {"values": [0,1,2,3,4,5,6,7,8,9,10,11,12,13,14,15,16,17,18,19,20,21,22,23,24,25,26,27,28,29,30,31,32,33,34,35,36,37,38,39,40,41,42,43,44,45,46,47,48,49,50], "tickCount": 500, "format": "d", "labelOverlap": false, "labelExpr": "datum.value % 5 === 0 ? datum.label : ''", "title": "Antal kolonier per 100 ml"}},
         "x2": {"field": "till"},
         "y": {"field": "antal", "type": "quantitative", "scale": {"domain": [0, 15], "nice": false}, "axis": {"values": [0,3,6,9,12,15], "tickCount": 500, "format": "d", "labelOverlap": false, "title": "Antal svar"}},
         "color": {"field": "typ", "type": "nominal", "scale": {"domain": ["Nollvärden", "Övriga"], "range": ["#eeee3c", "#c8c8c8"]},
           "legend": {"title": null, "values": ["Nollvärden"], "legendX": 232, "legendY": 22, "padding": 6, "symbolSize": 100, "symbolOffset": 19, "labelOffset": 17, "labelFontSize": 13}}
       }},
      {"data": {"values": [{"mv": 3, "etikett": "3", "pil": "↓"}]},
       "mark": {"type": "text", "fontSize": 11, "baseline": "middle"},
       "encoding": {"x": {"field": "mv", "type": "quantitative"}, "y": {"datum": 13.83}, "text": {"field": "etikett"}}},
      {"data": {"values": [{"mv": 3, "etikett": "3", "pil": "↓"}]},
       "mark": {"type": "text", "fontSize": 14, "baseline": "middle"},
       "encoding": {"x": {"field": "mv", "type": "quantitative"}, "y": {"datum": 12.73}, "text": {"field": "pil"}}}
    ]
  },
  {
    "width": 368, "height": 193,
    "title": {"text": "Jästsvampar 25 °C (MF)"},
    "layer": [
      {"data": {"name": "jastc_metod"},
       "transform": [{"calculate": "indexof(['Annat/Okänt','OGYE Agar, ISO 7954','DRBC Agar, NMKL 98','DRBC Agar, \"Water\"','RBC Agar'], datum.metod)", "as": "ord"}],
       "mark": {"type": "bar", "stroke": "#3a3a3a", "strokeWidth": 0.8, "binSpacing": 0},
       "encoding": {
         "x": {"field": "fran", "type": "quantitative", "bin": "binned", "scale": {"domain": [0, 50], "nice": false, "zero": false}, "axis": {"values": [0,1,2,3,4,5,6,7,8,9,10,11,12,13,14,15,16,17,18,19,20,21,22,23,24,25,26,27,28,29,30,31,32,33,34,35,36,37,38,39,40,41,42,43,44,45,46,47,48,49,50], "tickCount": 500, "format": "d", "labelOverlap": false, "labelExpr": "datum.value % 5 === 0 ? datum.label : ''", "title": "Antal kolonier per 100 ml"}},
         "x2": {"field": "till"},
         "y": {"field": "antal", "type": "quantitative", "stack": "zero", "scale": {"domain": [0, 15], "nice": false}, "axis": {"values": [0,3,6,9,12,15], "tickCount": 500, "format": "d", "labelOverlap": false, "title": "Antal svar"}},
         "color": {"field": "metod", "type": "nominal", "scale": {"domain": ["RBC Agar", "DRBC Agar, \"Water\"", "DRBC Agar, NMKL 98", "OGYE Agar, ISO 7954", "Annat/Okänt"], "range": ["#55a9ee", "#95eb32", "#eeee3c", "#d456c6", "#ee1a1a"]}, "legend": null},
         "order": {"field": "ord", "type": "quantitative"}
       }},
      {"data": {"values": [{"mv": 3, "etikett": "3", "pil": "↓"}]},
       "mark": {"type": "text", "fontSize": 11, "baseline": "middle"},
       "encoding": {"x": {"field": "mv", "type": "quantitative"}, "y": {"datum": 13.83}, "text": {"field": "etikett"}}},
      {"data": {"values": [{"mv": 3, "etikett": "3", "pil": "↓"}]},
       "mark": {"type": "text", "fontSize": 14, "baseline": "middle"},
       "encoding": {"x": {"field": "mv", "type": "quantitative"}, "y": {"datum": 12.73}, "text": {"field": "pil"}}}
    ]
  },

  {
    "width": 1, "height": 80,
    "view": {"stroke": null},
    "data": {"values": [{"sida": "18", "rubrik": "Kompetensprovning Mikrobiologi – Dricksvatten, mars 2015"}]},
    "transform": [{"calculate": "datum.sida + '\u00a0\u00a0\u00a0\u00a0' + datum.rubrik", "as": "rad"}],
    "mark": {"type": "text", "align": "left", "baseline": "alphabetic", "font": "Liberation Serif", "fontSize": 21, "fontWeight": "bold"},
    "encoding": {
      "x": {"datum": 0, "type": "quantitative", "scale": {"domain": [0, 1]}, "axis": null},
      "y": {"datum": 0, "type": "quantitative", "scale": {"domain": [0, 1]}, "axis": null},
      "text": {"field": "rad"}
    }
  }
]
}
